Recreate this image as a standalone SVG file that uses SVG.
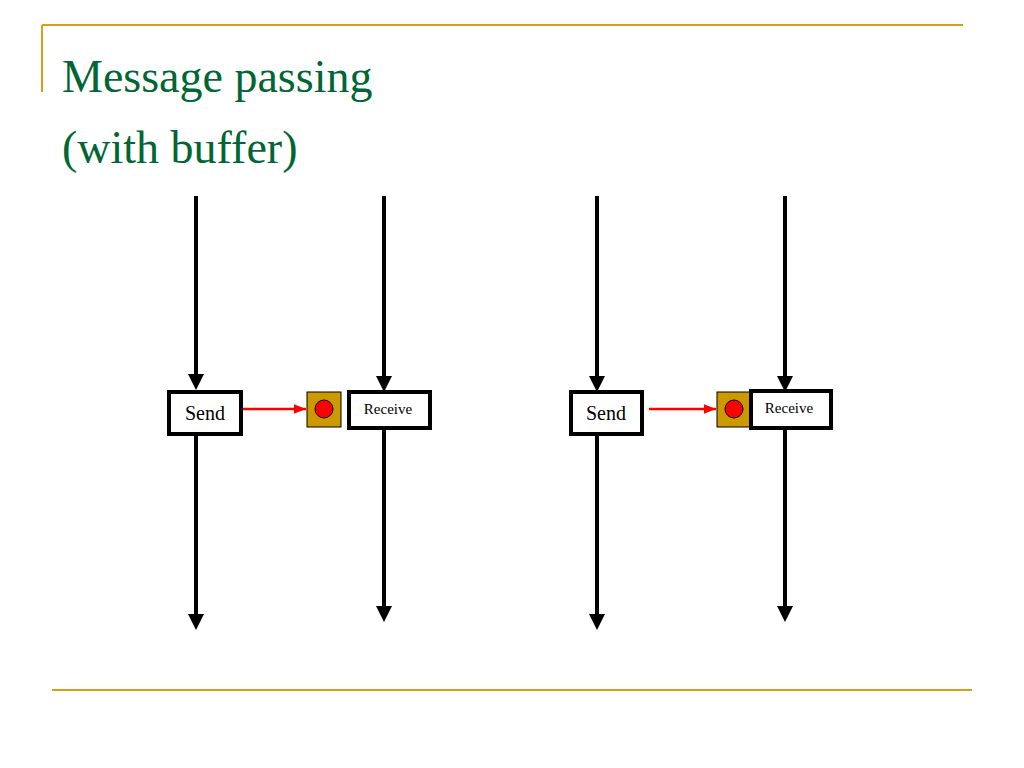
<svg xmlns="http://www.w3.org/2000/svg" width="1024" height="768" viewBox="0 0 1024 768">
<style>
.t{font-family:"Liberation Serif",serif;fill:#006633;font-size:46px}
.ln{stroke:#000;stroke-width:4}
.box{fill:#fff;stroke:#000;stroke-width:4}
.buf{fill:#cc9900;stroke:#000;stroke-width:1}
.lb{font-family:"Liberation Serif",serif;fill:#000}
.gold{stroke:#d4a017;stroke-width:2}
</style>
<defs>
<marker id="ab" markerWidth="4" markerHeight="4" refX="2" refY="2" orient="auto"><path d="M0,0 L4,2 L0,4 z" fill="#000"/></marker>
<marker id="ar" markerWidth="5" markerHeight="4" refX="5" refY="2" orient="auto" markerUnits="strokeWidth"><path d="M0,0 L5,2 L0,4 z" fill="#f00"/></marker>
</defs>
<rect width="1024" height="768" fill="#fff"/>
<line class="gold" x1="42" y1="25" x2="963" y2="25"/>
<line class="gold" x1="42" y1="25" x2="42" y2="92"/>
<line class="gold" x1="52" y1="690" x2="972" y2="690"/>
<text class="t" x="62" y="92">Message passing</text>
<text class="t" x="62" y="163">(with buffer)</text>
<g id="connectors">
<line class="ln" x1="196" y1="196" x2="196" y2="382" marker-end="url(#ab)"/>
<line class="ln" x1="196" y1="434" x2="196" y2="622" marker-end="url(#ab)"/>
<line class="ln" x1="384" y1="196" x2="384" y2="384" marker-end="url(#ab)"/>
<line class="ln" x1="384" y1="428" x2="384" y2="614" marker-end="url(#ab)"/>
<line class="ln" x1="597" y1="196" x2="597" y2="384" marker-end="url(#ab)"/>
<line class="ln" x1="597" y1="434" x2="597" y2="622" marker-end="url(#ab)"/>
<line class="ln" x1="785" y1="196" x2="785" y2="384" marker-end="url(#ab)"/>
<line class="ln" x1="785" y1="428" x2="785" y2="614" marker-end="url(#ab)"/>
<line x1="243" y1="409" x2="306" y2="409" stroke="#f00" stroke-width="2.5" marker-end="url(#ar)"/>
<line x1="649" y1="409" x2="716" y2="409" stroke="#f00" stroke-width="2.5" marker-end="url(#ar)"/>
</g>
<g id="send1"><rect class="box" x="169" y="392" width="72" height="42"/><text class="lb" x="205" y="420" font-size="20" text-anchor="middle">Send</text></g>
<g id="buf1"><rect class="buf" x="307" y="392" width="34" height="35"/><circle cx="324" cy="409" r="9" fill="#f00" stroke="#000"/></g>
<g id="recv1"><rect class="box" x="349" y="392" width="81" height="36"/><text class="lb" x="388" y="414" font-size="15" text-anchor="middle">Receive</text></g>
<g id="send2"><rect class="box" x="571" y="392" width="71" height="42"/><text class="lb" x="606" y="420" font-size="20" text-anchor="middle">Send</text></g>
<g id="buf2"><rect class="buf" x="717" y="392" width="34" height="35"/><circle cx="734" cy="409" r="9" fill="#f00" stroke="#000"/></g>
<g id="recv2"><rect class="box" x="751" y="391" width="80" height="37"/><text class="lb" x="789" y="413" font-size="15" text-anchor="middle">Receive</text></g>
</svg>
